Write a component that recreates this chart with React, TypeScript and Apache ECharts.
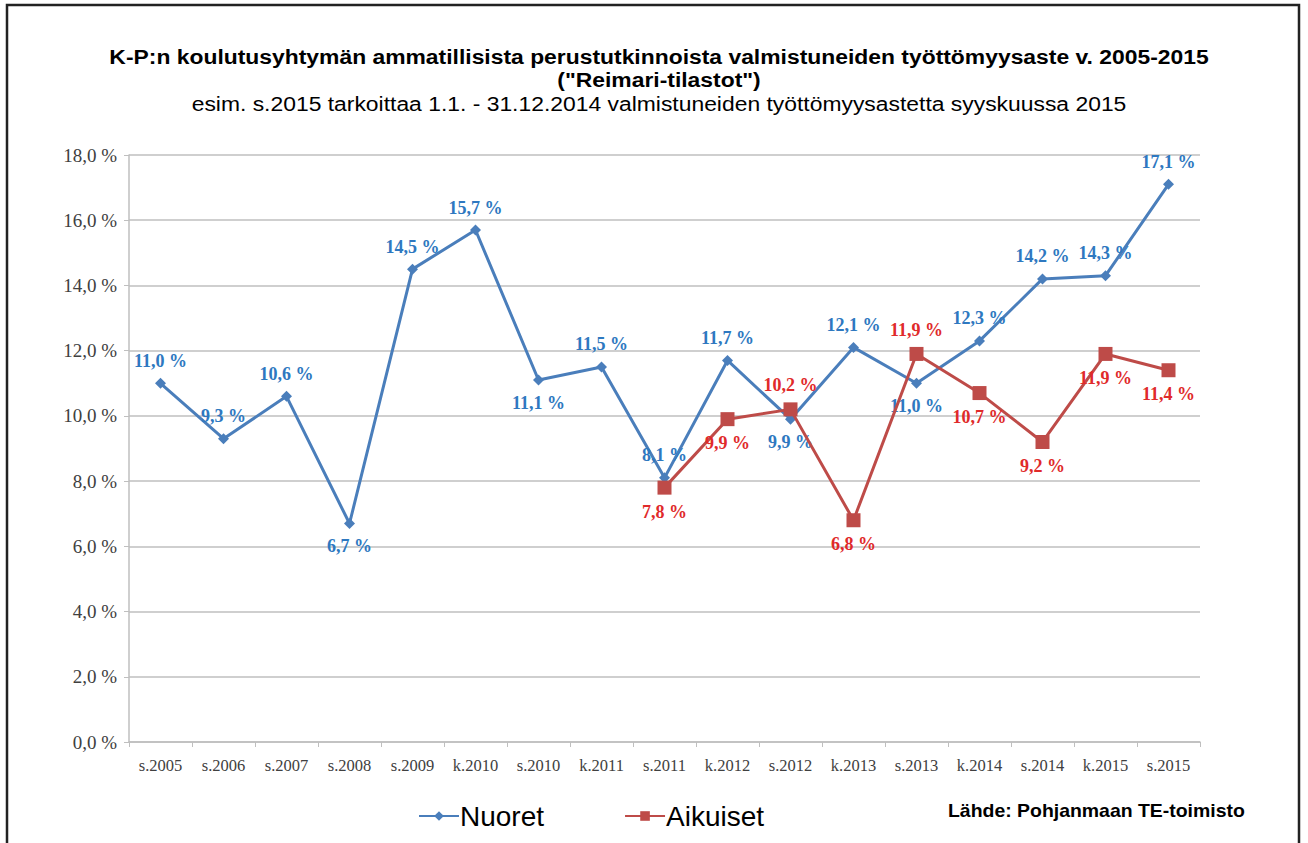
import React, { useEffect, useRef } from "react";
import * as echarts from "echarts";

const categories = [
  "s.2005", "s.2006", "s.2007", "s.2008", "s.2009", "k.2010", "s.2010", "k.2011", "s.2011",
  "k.2012", "s.2012", "k.2013", "s.2013", "k.2014", "s.2014", "k.2015", "s.2015",
];
const nuoret = [11.0, 9.3, 10.6, 6.7, 14.5, 15.7, 11.1, 11.5, 8.1, 11.7, 9.9, 12.1, 11.0, 12.3, 14.2, 14.3, 17.1];
const aikuiset = [null, null, null, null, null, null, null, null, 7.8, 9.9, 10.2, 6.8, 11.9, 10.7, 9.2, 11.9, 11.4];
const nuoretLabelPos = ["top", "top", "top", "bottom", "top", "top", "bottom", "top", "top", "top", "bottom", "top", "bottom", "top", "top", "top", "top"];
const aikuisetLabelPos = ["", "", "", "", "", "", "", "", "bottom", "bottom", "top", "bottom", "top", "bottom", "bottom", "bottom", "bottom"];
const yTicks = [0, 2, 4, 6, 8, 10, 12, 14, 16, 18];

const titleLine1 = "K-P:n koulutusyhtymän ammatillisista perustutkinnoista valmistuneiden työttömyysaste v. 2005-2015";
const titleLine2 = '("Reimari-tilastot")';
const subtitle = "esim. s.2015 tarkoittaa 1.1. - 31.12.2014 valmistuneiden työttömyysastetta syyskuussa 2015";
const source = "Lähde: Pohjanmaan TE-toimisto";

const fmt = (v: number) => v.toFixed(1).replace(".", ",") + " %";
const SERIF = '"Liberation Serif", "Times New Roman", serif';
const SANS = '"Liberation Sans", Arial, sans-serif';

export default function App() {
  const ref = useRef<HTMLDivElement>(null);
  useEffect(() => {
    const chart = echarts.init(ref.current!, null, { renderer: "svg" });
    const blue = "#4a7ebb";
    const red = "#be4b48";
    chart.setOption({
      animation: false,
      backgroundColor: "#ffffff",
      legend: {
        left: 413,
        top: 797,
        itemWidth: 40,
        itemHeight: 12,
        itemGap: 80,
        data: ["Nuoret", "Aikuiset"],
        textStyle: { fontFamily: SANS, fontSize: 28, color: "#000", padding: [0, 0, 0, -4] },
      },
      grid: { left: 129, right: 108, top: 155, bottom: 101, containLabel: false },
      xAxis: {
        type: "category",
        data: categories,
        boundaryGap: true,
        axisLine: { lineStyle: { color: "#bfbfbf", width: 1.5 } },
        axisTick: { show: true, length: 5, inside: false, lineStyle: { color: "#bfbfbf" } },
        axisLabel: { fontFamily: SERIF, fontSize: 16.5, color: "#404040", margin: 15, interval: 0 },
      },
      yAxis: {
        type: "value",
        min: yTicks[0],
        max: yTicks[yTicks.length - 1],
        interval: 2,
        axisLine: { show: true, lineStyle: { color: "#bfbfbf", width: 1.5 } },
        axisTick: { show: true, length: 5, lineStyle: { color: "#bfbfbf" } },
        splitLine: { show: true, lineStyle: { color: "#bfbfbf", width: 1.5 } },
        axisLabel: { fontFamily: SERIF, fontSize: 19, color: "#404040", margin: 12, formatter: (v: number) => fmt(v) },
      },
      series: [
        {
          name: "Nuoret",
          type: "line",
          data: nuoret.map((v, i) => ({
            value: v,
            label: { position: nuoretLabelPos[i] },
          })),
          symbol: "diamond",
          symbolSize: 11,
          itemStyle: { color: blue },
          lineStyle: { color: blue, width: 3 },
          label: {
            show: true,
            distance: 8,
            fontFamily: SERIF,
            fontSize: 18,
            fontWeight: "bold",
            color: "#2e78c0",
            formatter: (p: any) => fmt(p.value),
          },
          z: 3,
        },
        {
          name: "Aikuiset",
          type: "line",
          data: aikuiset.map((v, i) => ({
            value: v === null ? "-" : v,
            label: { position: aikuisetLabelPos[i] || "bottom" },
          })),
          symbol: "rect",
          symbolSize: 14,
          itemStyle: { color: red },
          lineStyle: { color: red, width: 3 },
          label: {
            show: true,
            distance: 8,
            fontFamily: SERIF,
            fontSize: 18,
            fontWeight: "bold",
            color: "#e02a2a",
            formatter: (p: any) => (typeof p.value === "number" ? fmt(p.value) : ""),
          },
          z: 4,
        },
      ],
      graphic: [
        {
          type: "rect",
          shape: { x: 7, y: 5, width: 1292, height: 860 },
          style: { fill: "none", stroke: "#222", lineWidth: 2.5 },
          silent: true,
        },
        {
          type: "text",
          x: 659,
          y: 57,
          scaleX: 1.09,
          style: { text: titleLine1, fontFamily: SANS, fontSize: 21, fontWeight: "bold", fill: "#000", align: "center", verticalAlign: "middle" },
        },
        {
          type: "text",
          x: 659,
          y: 80,
          scaleX: 1.09,
          style: { text: titleLine2, fontFamily: SANS, fontSize: 21, fontWeight: "bold", fill: "#000", align: "center", verticalAlign: "middle" },
        },
        {
          type: "text",
          x: 659,
          y: 104,
          scaleX: 1.09,
          style: { text: subtitle, fontFamily: SANS, fontSize: 21, fill: "#000", align: "center", verticalAlign: "middle" },
        },
        {
          type: "text",
          x: 948,
          y: 811,
          scaleX: 1.08,
          style: { text: source, fontFamily: SANS, fontSize: 18, fontWeight: "bold", fill: "#000", align: "left", verticalAlign: "middle" },
        },
      ],
    });
    return () => chart.dispose();
  }, []);
  return (
    <div style={{ position: "fixed", left: 0, top: 0, width: 1308, height: 843, background: "#fff" }}>
      <div ref={ref} style={{ width: 1308, height: 843 }} />
    </div>
  );
}
